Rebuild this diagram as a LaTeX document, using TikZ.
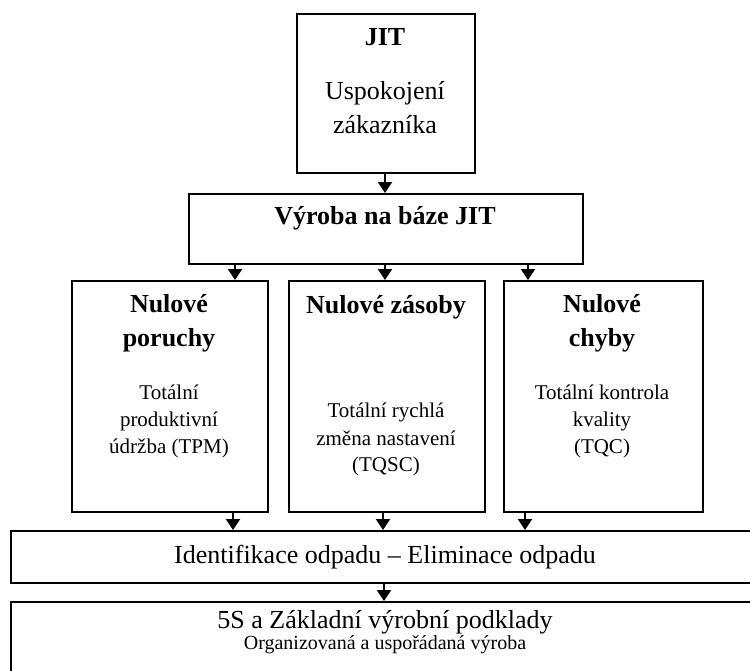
\documentclass[tikz,border=0pt]{standalone}
\usepackage{fontspec}
\setmainfont{Liberation Serif}
\usetikzlibrary{arrows.meta}
\begin{document}
\begin{tikzpicture}[x=1pt,y=-1pt,
  box/.style={draw=black,line width=1.8pt,rectangle,inner sep=0pt,anchor=north west},
  arr/.style={line width=2pt,-{Triangle[width=14pt,length=11pt]}},
  big/.style={font=\fontsize{26}{30}\selectfont,anchor=base,inner sep=0pt},
  bigb/.style={font=\fontsize{26}{30}\selectfont\bfseries,anchor=base,inner sep=0pt},
  small/.style={font=\fontsize{21}{24}\selectfont,anchor=base,inner sep=0pt},
  smaller/.style={font=\fontsize{20}{24}\selectfont,anchor=base,inner sep=0pt}]
\useasboundingbox (0,0) rectangle (750,670);
\clip (0,0) rectangle (750,670);
% boxes
\node[box,minimum width=178pt,minimum height=159pt] (jit) at (296,13) {};
\node[box,minimum width=394pt,minimum height=70pt] (vyr) at (188,193) {};
\node[box,minimum width=196pt,minimum height=231pt] (por) at (71,280) {};
\node[box,minimum width=196pt,minimum height=231pt] (zas) at (288,280) {};
\node[box,minimum width=199pt,minimum height=231pt] (chy) at (503,280) {};
\node[box,minimum width=760pt,minimum height=52pt] (ide) at (10,530) {};
\node[box,minimum width=760pt,minimum height=100pt] (fives) at (10,601) {};
% texts
\node[bigb] (t1) at (385,45) {JIT};
\node[big] (t2) at (385,99) {Uspokojení};
\node[big] (t3) at (385,133) {zákazníka};
\node[bigb] (t4) at (385,224) {Výroba na báze JIT};
\node[bigb] (t5) at (169,312) {Nulové};
\node[bigb] (t6) at (169,346) {poruchy};
\node[small] (t7) at (169,399) {Totální};
\node[small] (t8) at (169,426) {produktivní};
\node[small] (t9) at (169,453) {údržba (TPM)};
\node[bigb] (t10) at (386,313) {Nulové zásoby};
\node[small] (t11) at (386,417) {Totální rychlá};
\node[small] (t12) at (386,445) {změna nastavení};
\node[small] (t13) at (386,471) {(TQSC)};
\node[bigb] (t14) at (602,312) {Nulové};
\node[bigb] (t15) at (602,346) {chyby};
\node[small] (t16) at (602,399) {Totální kontrola};
\node[small] (t17) at (602,426) {kvality};
\node[small] (t18) at (602,453) {(TQC)};
\node[big] (t19) at (385,563) {Identifikace odpadu – Eliminace odpadu};
\node[big] (t20) at (385,628) {5S a Základní výrobní podklady};
\node[smaller] (t21) at (385,649) {Organizovaná a uspořádaná výroba};
% connectors
\draw[arr] (jit.south -| 385,0) -- (vyr.north -| 385,0);
\draw[arr] (vyr.south -| 235,0) -- (por.north -| 235,0);
\draw[arr] (vyr.south -| 385,0) -- (zas.north -| 385,0);
\draw[arr] (vyr.south -| 528,0) -- (chy.north -| 528,0);
\draw[arr] (por.south -| 233,0) -- (ide.north -| 233,0);
\draw[arr] (zas.south -| 383,0) -- (ide.north -| 383,0);
\draw[arr] (chy.south -| 525,0) -- (ide.north -| 525,0);
\draw[arr] (ide.south -| 384,0) -- (fives.north -| 384,0);
\end{tikzpicture}
\end{document}
